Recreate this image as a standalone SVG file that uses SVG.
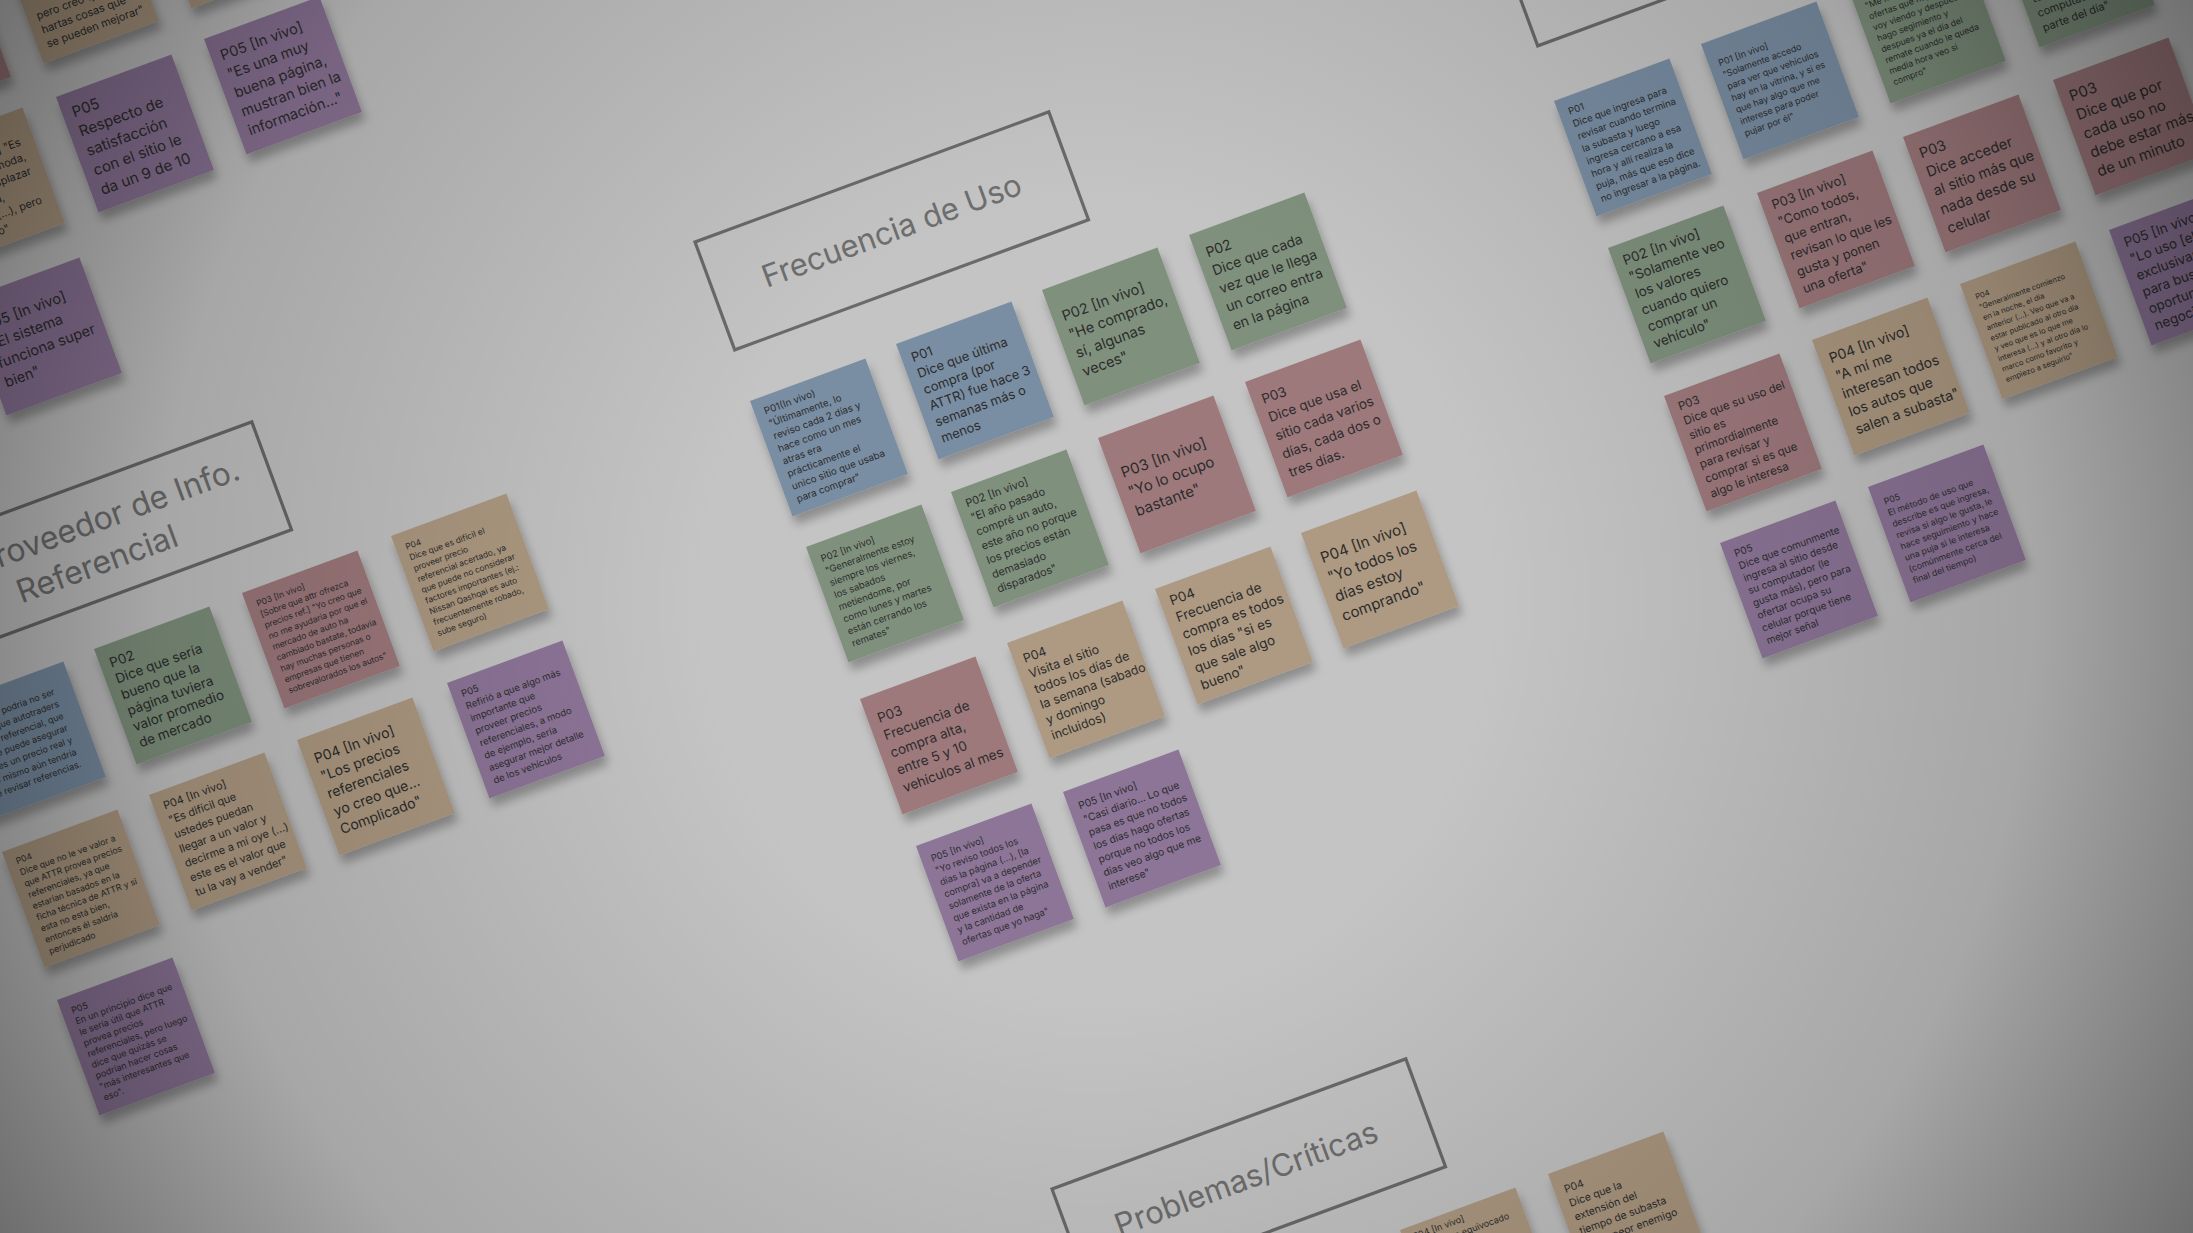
<svg xmlns="http://www.w3.org/2000/svg" width="2193" height="1233" viewBox="0 0 2193 1233">
<defs>
<style>
.n{filter:url(#sh)}
.bl{fill:#7a8ea3}.gr{fill:#7f917d}.rd{fill:#9e797b}.tn{fill:#ae9a82}.pu{fill:#8d7498}
text{font-family:Inter,"Noto Sans","DejaVu Sans",sans-serif}
.t{fill:#2c2c2c}
.e{text-anchor:end}
.box{fill:none;stroke:#6a6a6a;stroke-width:3.2}
.h{fill:#6e6e6e;text-anchor:middle}
.hs{fill:#6e6e6e}
</style>
<filter id="sh" x="-20%" y="-20%" width="150%" height="150%">
<feDropShadow dx="0.5" dy="9" stdDeviation="5" flood-color="#000" flood-opacity="0.28"/>
</filter>
<radialGradient id="vg" cx="1096" cy="600" r="1300" gradientUnits="userSpaceOnUse">
<stop offset="0.3" stop-color="#000" stop-opacity="0"/>
<stop offset="0.72" stop-color="#000" stop-opacity="0.15"/>
<stop offset="1" stop-color="#000" stop-opacity="0.47"/>
</radialGradient>
</defs>
<rect width="2193" height="1233" fill="#c4c4c4"/>

<g id="headers">
<g id="box-proveedor" transform="translate(-102 552) rotate(-20.2)"><rect class="box" width="377" height="115"/><text class="hs" x="69" y="50" font-size="32">Proveedor de Info.</text><text class="hs" x="98" y="91" font-size="32">Referencial</text></g>
<g id="box-frecuencia" transform="translate(695 242) rotate(-20.2)"><rect class="box" width="377" height="115"/><text class="h" x="188.5" y="68" font-size="31">Frecuencia de Uso</text></g>
<g id="box-problemas" transform="translate(1052 1189) rotate(-20.2)"><rect class="box" width="377" height="115"/><text class="h" x="186" y="68" font-size="31">Problemas/Críticas</text></g>
<g id="box-topright" transform="translate(1498 -62) rotate(-20.2)"><rect class="box" width="377" height="115"/></g>
</g>

<g id="connectors"></g>

<g id="notes-left">
<g id="n-l01" transform="translate(1 -52) rotate(-20.2)"><rect class="n tn" width="123" height="123"/><text class="t" font-size="11" y="80"><tspan x="10">pero creo que</tspan><tspan x="10" dy="15">hartas cosas que</tspan><tspan x="10" dy="15">se pueden mejorar"</tspan></text></g>
<g id="n-l02" transform="translate(149 -107) rotate(-20.2)"><rect class="n tn" width="123" height="123"/></g>
<g id="n-l03" transform="translate(-147 4) rotate(-20.2)"><rect class="n rd" width="123" height="123"/></g>
<g id="n-l04" transform="translate(-93 150) rotate(-20.2)"><rect class="n tn" width="123" height="123"/><text class="t e" font-size="11" y="35"><tspan x="109">P04 [In vivo] "Es</tspan><tspan x="109" dy="15.4">muy cómoda,</tspan><tspan x="109" dy="15.4">fácil de desplazar</tspan><tspan x="75" dy="15.4">por ella,</tspan><tspan x="109" dy="15.4">buena (...), pero</tspan><tspan x="69" dy="15.4">es cierto"</tspan></text></g>
<g id="n-l05" transform="translate(56 97) rotate(-20.2)"><rect class="n pu" width="123" height="123"/><text class="t" font-size="15" y="25.4"><tspan x="10">P05</tspan><tspan x="10" dy="20.7">Respecto de</tspan><tspan x="10" dy="20.7">satisfacción</tspan><tspan x="10" dy="20.7">con el sitio le</tspan><tspan x="10" dy="20.7">da un 9 de 10</tspan></text></g>
<g id="n-l06" transform="translate(204 39) rotate(-20.2)"><rect class="n pu" width="123" height="123"/><text class="t" font-size="14.5" y="26.6"><tspan x="10">P05 [In vivo]</tspan><tspan x="10" dy="20">"Es una muy</tspan><tspan x="10" dy="20">buena página,</tspan><tspan x="10" dy="20">mustran bien la</tspan><tspan x="10" dy="20">información..."</tspan></text></g>
<g id="n-l07" transform="translate(-36 300) rotate(-20.2)"><rect class="n pu" width="123" height="123"/><text class="t" font-size="14.5" y="36"><tspan x="10">P05 [In vivo]</tspan><tspan x="10" dy="20.3">"El sistema</tspan><tspan x="10" dy="20.3">funciona super</tspan><tspan x="10" dy="20.3">bien"</tspan></text></g>
<g id="n-l08" transform="translate(-52 704) rotate(-20.2)"><rect class="n bl" width="123" height="123"/><text class="t e" font-size="9" y="28"><tspan x="104">Dice que podría no ser</tspan><tspan x="104" dy="12.8">útil ya que autotraders</tspan><tspan x="104" dy="12.8">da un precio, referencial, que</tspan><tspan x="104" dy="12.8">no se puede asegurar</tspan><tspan x="104" dy="12.8">que es un precio real y</tspan><tspan x="104" dy="12.8">que de todo lo mismo aún tendría</tspan><tspan x="104" dy="12.8">que revisar referencias.</tspan></text></g>
<g id="n-l09" transform="translate(94 649) rotate(-20.2)"><rect class="n gr" width="123" height="123"/><text class="t" font-size="13.5" y="23.7"><tspan x="10">P02</tspan><tspan x="10" dy="17">Dice que sería</tspan><tspan x="10" dy="17">bueno que la</tspan><tspan x="10" dy="17">página tuviera</tspan><tspan x="10" dy="17">valor promedio</tspan><tspan x="10" dy="17">de mercado</tspan></text></g>
<g id="n-l10" transform="translate(242 593) rotate(-20.2)"><rect class="n rd" width="123" height="123"/><text class="t" font-size="8.5" y="18.1"><tspan x="10">P03 [In vivo]</tspan><tspan x="10" dy="11.6">[Sobre que attr ofrezca</tspan><tspan x="10" dy="11.6">precios ref.] "Yo creo que</tspan><tspan x="10" dy="11.6">no me ayudaría por que el</tspan><tspan x="10" dy="11.6">mercado de auto ha</tspan><tspan x="10" dy="11.6">cambiado bastate, todavía</tspan><tspan x="10" dy="11.6">hay muchas personas o</tspan><tspan x="10" dy="11.6">empresas que tienen</tspan><tspan x="10" dy="11.6">sobrevalorados los autos"</tspan></text></g>
<g id="n-l11" transform="translate(391 536) rotate(-20.2)"><rect class="n tn" width="123" height="123"/><text class="t" font-size="8.4" y="18.4"><tspan x="10">P04</tspan><tspan x="10" dy="11.5">Dice que es difícil el</tspan><tspan x="10" dy="11.5">proveer precio</tspan><tspan x="10" dy="11.5">referencial acertado, ya</tspan><tspan x="10" dy="11.5">que puede no considerar</tspan><tspan x="10" dy="11.5">factores importantes (ej.:</tspan><tspan x="10" dy="11.5">Nissan Qashqai es auto</tspan><tspan x="10" dy="11.5">frecuentemente robado,</tspan><tspan x="10" dy="11.5">sube seguro)</tspan></text></g>
<g id="n-l12" transform="translate(447 683) rotate(-20.2)"><rect class="n pu" width="123" height="123"/><text class="t" font-size="9.5" y="18.6"><tspan x="10">P05</tspan><tspan x="10" dy="13.2">Refirió a que algo más</tspan><tspan x="10" dy="13.2">importante que</tspan><tspan x="10" dy="13.2">proveer precios</tspan><tspan x="10" dy="13.2">referenciales, a modo</tspan><tspan x="10" dy="13.2">de ejemplo, sería</tspan><tspan x="10" dy="13.2">asegurar mejor detalle</tspan><tspan x="10" dy="13.2">de los vehículos</tspan></text></g>
<g id="n-l13" transform="translate(297 740) rotate(-20.2)"><rect class="n tn" width="123" height="123"/><text class="t" font-size="14" y="28.8"><tspan x="10">P04 [In vivo]</tspan><tspan x="10" dy="18.8">"Los precios</tspan><tspan x="10" dy="18.8">referenciales</tspan><tspan x="10" dy="18.8">yo creo que...</tspan><tspan x="10" dy="18.8">Complicado"</tspan></text></g>
<g id="n-l14" transform="translate(149 795) rotate(-20.2)"><rect class="n tn" width="123" height="123"/><text class="t" font-size="11" y="19.2"><tspan x="10">P04 [In vivo]</tspan><tspan x="10" dy="15.4">"Es difícil que</tspan><tspan x="10" dy="15.4">ustedes puedan</tspan><tspan x="10" dy="15.4">llegar a un valor y</tspan><tspan x="10" dy="15.4">decirme a mí oye (...)</tspan><tspan x="10" dy="15.4">este es el valor que</tspan><tspan x="10" dy="15.4">tu la vay a vender"</tspan></text></g>
<g id="n-l15" transform="translate(2 852) rotate(-20.2)"><rect class="n tn" width="123" height="123"/><text class="t" font-size="8.7" y="16.7"><tspan x="10">P04</tspan><tspan x="10" dy="12">Dice que no le ve valor a</tspan><tspan x="10" dy="12">que ATTR provea precios</tspan><tspan x="10" dy="12">referenciales, ya que</tspan><tspan x="10" dy="12">estarían basados en la</tspan><tspan x="10" dy="12">ficha técnica de ATTR y si</tspan><tspan x="10" dy="12">esta no está bien,</tspan><tspan x="10" dy="12">entonces él saldría</tspan><tspan x="10" dy="12">perjudicado</tspan></text></g>
<g id="n-l16" transform="translate(57 1000) rotate(-20.2)"><rect class="n pu" width="123" height="123"/><text class="t" font-size="9" y="18.3"><tspan x="10">P05</tspan><tspan x="10" dy="11.6">En un principio dice que</tspan><tspan x="10" dy="11.6">le sería útil que ATTR</tspan><tspan x="10" dy="11.6">provea precios</tspan><tspan x="10" dy="11.6">referenciales, pero luego</tspan><tspan x="10" dy="11.6">dice que quizás se</tspan><tspan x="10" dy="11.6">podrían hacer cosas</tspan><tspan x="10" dy="11.6">"más interesantes que</tspan><tspan x="10" dy="11.6">eso".</tspan></text></g>
</g>

<g id="notes-center">
<g id="n-c01" transform="translate(750 401) rotate(-20.2)"><rect class="n bl" width="123" height="123"/><text class="t" font-size="9.8" y="18"><tspan x="10">P01(In vivo)</tspan><tspan x="10" dy="13.4">"Últimamente, lo</tspan><tspan x="10" dy="13.4">reviso cada 2 días y</tspan><tspan x="10" dy="13.4">hace como un mes</tspan><tspan x="10" dy="13.4">atras era</tspan><tspan x="10" dy="13.4">prácticamente el</tspan><tspan x="10" dy="13.4">unico sitio que usaba</tspan><tspan x="10" dy="13.4">para comprar"</tspan></text></g>
<g id="n-c02" transform="translate(896 344) rotate(-20.2)"><rect class="n bl" width="123" height="123"/><text class="t" font-size="13" y="23"><tspan x="10">P01</tspan><tspan x="10" dy="17.2">Dice que última</tspan><tspan x="10" dy="17.2">compra (por</tspan><tspan x="10" dy="17.2">ATTR) fue hace 3</tspan><tspan x="10" dy="17.2">semanas más o</tspan><tspan x="10" dy="17.2">menos</tspan></text></g>
<g id="n-c03" transform="translate(1042 290) rotate(-20.2)"><rect class="n gr" width="123" height="123"/><text class="t" font-size="14.5" y="37"><tspan x="10">P02 [In vivo]</tspan><tspan x="10" dy="19.7">"He comprado,</tspan><tspan x="10" dy="19.7">sí, algunas</tspan><tspan x="10" dy="19.7">veces"</tspan></text></g>
<g id="n-c04" transform="translate(1189 235) rotate(-20.2)"><rect class="n gr" width="123" height="123"/><text class="t" font-size="14" y="27.6"><tspan x="10">P02</tspan><tspan x="10" dy="19.4">Dice que cada</tspan><tspan x="10" dy="19.4">vez que le llega</tspan><tspan x="10" dy="19.4">un correo entra</tspan><tspan x="10" dy="19.4">en la página</tspan></text></g>
<g id="n-c05" transform="translate(806 547) rotate(-20.2)"><rect class="n gr" width="123" height="123"/><text class="t" font-size="9.5" y="19.7"><tspan x="10">P02 [In vivo]</tspan><tspan x="10" dy="12.9">"Generalmente estoy</tspan><tspan x="10" dy="12.9">siempre los viernes,</tspan><tspan x="10" dy="12.9">los sabados</tspan><tspan x="10" dy="12.9">metiendome, por</tspan><tspan x="10" dy="12.9">como lunes y martes</tspan><tspan x="10" dy="12.9">están cerrando los</tspan><tspan x="10" dy="12.9">remates"</tspan></text></g>
<g id="n-c06" transform="translate(951 492) rotate(-20.2)"><rect class="n gr" width="123" height="123"/><text class="t" font-size="11" y="19.8"><tspan x="10">P02 [In vivo]</tspan><tspan x="10" dy="15.2">"El año pasado</tspan><tspan x="10" dy="15.2">compré un auto,</tspan><tspan x="10" dy="15.2">este año no porque</tspan><tspan x="10" dy="15.2">los precios están</tspan><tspan x="10" dy="15.2">demasiado</tspan><tspan x="10" dy="15.2">disparados"</tspan></text></g>
<g id="n-c07" transform="translate(1098 438) rotate(-20.2)"><rect class="n rd" width="123" height="123"/><text class="t" font-size="15" y="46.3"><tspan x="10">P03 [In vivo]</tspan><tspan x="10" dy="20.5">"Yo lo ocupo</tspan><tspan x="10" dy="20.5">bastante"</tspan></text></g>
<g id="n-c08" transform="translate(1245 382) rotate(-20.2)"><rect class="n rd" width="123" height="123"/><text class="t" font-size="13.5" y="27.2"><tspan x="10">P03</tspan><tspan x="10" dy="19.5">Dice que usa el</tspan><tspan x="10" dy="19.5">sitio cada varios</tspan><tspan x="10" dy="19.5">días, cada dos o</tspan><tspan x="10" dy="19.5">tres días.</tspan></text></g>
<g id="n-c09" transform="translate(860 699) rotate(-20.2)"><rect class="n rd" width="123" height="123"/><text class="t" font-size="13.5" y="29.2"><tspan x="10">P03</tspan><tspan x="10" dy="18.5">Frecuencia de</tspan><tspan x="10" dy="18.5">compra alta,</tspan><tspan x="10" dy="18.5">entre 5 y 10</tspan><tspan x="10" dy="18.5">vehículos al mes</tspan></text></g>
<g id="n-c10" transform="translate(1007 643) rotate(-20.2)"><rect class="n tn" width="123" height="123"/><text class="t" font-size="12.5" y="24.9"><tspan x="10">P04</tspan><tspan x="10" dy="16.4">Visita el sitio</tspan><tspan x="10" dy="16.4">todos los días de</tspan><tspan x="10" dy="16.4">la semana (sabado</tspan><tspan x="10" dy="16.4">y domingo</tspan><tspan x="10" dy="16.4">incluidos)</tspan></text></g>
<g id="n-c11" transform="translate(1155 589) rotate(-20.2)"><rect class="n tn" width="123" height="123"/><text class="t" font-size="13.5" y="21.2"><tspan x="10">P04</tspan><tspan x="10" dy="18">Frecuencia de</tspan><tspan x="10" dy="18">compra es todos</tspan><tspan x="10" dy="18">los días "si es</tspan><tspan x="10" dy="18">que sale algo</tspan><tspan x="10" dy="18">bueno"</tspan></text></g>
<g id="n-c12" transform="translate(1301 533) rotate(-20.2)"><rect class="n tn" width="123" height="123"/><text class="t" font-size="15" y="35.9"><tspan x="10">P04 [In vivo]</tspan><tspan x="10" dy="20.6">"Yo todos los</tspan><tspan x="10" dy="20.6">días estoy</tspan><tspan x="10" dy="20.6">comprando"</tspan></text></g>
<g id="n-c13" transform="translate(916 846) rotate(-20.2)"><rect class="n pu" width="123" height="123"/><text class="t" font-size="9.3" y="20.5"><tspan x="10">P05 [In vivo]</tspan><tspan x="10" dy="12.7">"Yo reviso todos los</tspan><tspan x="10" dy="12.7">días la página (...), [la</tspan><tspan x="10" dy="12.7">compra] va a depender</tspan><tspan x="10" dy="12.7">solamente de la oferta</tspan><tspan x="10" dy="12.7">que exista en la página</tspan><tspan x="10" dy="12.7">y la cantidad de</tspan><tspan x="10" dy="12.7">ofertas que yo haga"</tspan></text></g>
<g id="n-c14" transform="translate(1063 792) rotate(-20.2)"><rect class="n pu" width="123" height="123"/><text class="t" font-size="10.3" y="22.3"><tspan x="10">P05 [In vivo]</tspan><tspan x="10" dy="14.3">"Casi diario... Lo que</tspan><tspan x="10" dy="14.3">pasa es que no todos</tspan><tspan x="10" dy="14.3">los días hago ofertas</tspan><tspan x="10" dy="14.3">porque no todos los</tspan><tspan x="10" dy="14.3">días veo algo que me</tspan><tspan x="10" dy="14.3">interese"</tspan></text></g>
</g>

<g id="notes-right">
<g id="n-r01" transform="translate(1554 101) rotate(-20.2)"><rect class="n bl" width="123" height="123"/><text class="t" font-size="9.6" y="18.4"><tspan x="10">P01</tspan><tspan x="10" dy="13.3">Dice que ingresa para</tspan><tspan x="10" dy="13.3">revisar cuando termina</tspan><tspan x="10" dy="13.3">la subasta y luego</tspan><tspan x="10" dy="13.3">ingresa cercano a esa</tspan><tspan x="10" dy="13.3">hora y allí realiza la</tspan><tspan x="10" dy="13.3">puja, más que eso dice</tspan><tspan x="10" dy="13.3">no ingresar a la página.</tspan></text></g>
<g id="n-r02" transform="translate(1701 44) rotate(-20.2)"><rect class="n bl" width="123" height="123"/><text class="t" font-size="9" y="27.3"><tspan x="10">P01 [In vivo]</tspan><tspan x="10" dy="12.5">"Solamente accedo</tspan><tspan x="10" dy="12.5">para ver que vehículos</tspan><tspan x="10" dy="12.5">hay en la vitrina, y si es</tspan><tspan x="10" dy="12.5">que hay algo que me</tspan><tspan x="10" dy="12.5">interese para poder</tspan><tspan x="10" dy="12.5">pujar por él"</tspan></text></g>
<g id="n-r03" transform="translate(1848 -12) rotate(-20.2)"><rect class="n gr" width="123" height="123"/><text class="t" font-size="8.7" y="14.4"><tspan x="10">P02 [In vivo]</tspan><tspan x="10" dy="11.6">"Me meto a ver las</tspan><tspan x="10" dy="11.6">ofertas que hay</tspan><tspan x="10" dy="11.6">voy viendo y despues lo</tspan><tspan x="10" dy="11.6">hago segimiento y</tspan><tspan x="10" dy="11.6">despues ya el día del</tspan><tspan x="10" dy="11.6">remate cuando le queda</tspan><tspan x="10" dy="11.6">media hora veo si</tspan><tspan x="10" dy="11.6">compro"</tspan></text></g>
<g id="n-r04" transform="translate(1997 -68) rotate(-20.2)"><rect class="n gr" width="123" height="123"/><text class="t" font-size="11" y="79"><tspan x="10">todo</tspan><tspan x="10" dy="15.5">computador</tspan><tspan x="10" dy="15.5">parte del día"</tspan></text></g>
<g id="n-r05" transform="translate(1608 248) rotate(-20.2)"><rect class="n gr" width="123" height="123"/><text class="t" font-size="13.5" y="22"><tspan x="10">P02 [In vivo]</tspan><tspan x="10" dy="17.7">"Solamente veo</tspan><tspan x="10" dy="17.7">los valores</tspan><tspan x="10" dy="17.7">cuando quiero</tspan><tspan x="10" dy="17.7">comprar un</tspan><tspan x="10" dy="17.7">vehículo"</tspan></text></g>
<g id="n-r06" transform="translate(1757 193) rotate(-20.2)"><rect class="n rd" width="123" height="123"/><text class="t" font-size="13" y="21.3"><tspan x="10">P03 [In vivo]</tspan><tspan x="10" dy="17.9">"Como todos,</tspan><tspan x="10" dy="17.9">que entran,</tspan><tspan x="10" dy="17.9">revisan lo que les</tspan><tspan x="10" dy="17.9">gusta y ponen</tspan><tspan x="10" dy="17.9">una oferta"</tspan></text></g>
<g id="n-r07" transform="translate(1903 137) rotate(-20.2)"><rect class="n rd" width="123" height="123"/><text class="t" font-size="14.5" y="26.6"><tspan x="10">P03</tspan><tspan x="10" dy="20">Dice acceder</tspan><tspan x="10" dy="20">al sitio más que</tspan><tspan x="10" dy="20">nada desde su</tspan><tspan x="10" dy="20">celular</tspan></text></g>
<g id="n-r08" transform="translate(2053 80) rotate(-20.2)"><rect class="n rd" width="123" height="123"/><text class="t" font-size="15" y="26.5"><tspan x="10">P03</tspan><tspan x="10" dy="20.1">Dice que por</tspan><tspan x="10" dy="20.1">cada uso no</tspan><tspan x="10" dy="20.1">debe estar más</tspan><tspan x="10" dy="20.1">de un minuto</tspan></text></g>
<g id="n-r09" transform="translate(1664 396) rotate(-20.2)"><rect class="n rd" width="123" height="123"/><text class="t" font-size="11.5" y="19"><tspan x="10">P03</tspan><tspan x="10" dy="15.5">Dice que su uso del</tspan><tspan x="10" dy="15.5">sitio es</tspan><tspan x="10" dy="15.5">primordialmente</tspan><tspan x="10" dy="15.5">para revisar y</tspan><tspan x="10" dy="15.5">comprar si es que</tspan><tspan x="10" dy="15.5">algo le interesa</tspan></text></g>
<g id="n-r10" transform="translate(1812 340) rotate(-20.2)"><rect class="n tn" width="123" height="123"/><text class="t" font-size="14" y="28.4"><tspan x="10">P04 [In vivo]</tspan><tspan x="10" dy="19">"A mí me</tspan><tspan x="10" dy="19">interesan todos</tspan><tspan x="10" dy="19">los autos que</tspan><tspan x="10" dy="19">salen a subasta"</tspan></text></g>
<g id="n-r11" transform="translate(1960 284) rotate(-20.2)"><rect class="n tn" width="123" height="123"/><text class="t" font-size="7.6" y="20.3"><tspan x="10">P04</tspan><tspan x="10" dy="11">"Generalmente comienzo</tspan><tspan x="10" dy="11">en la noche, el día</tspan><tspan x="10" dy="11">anterior (...). Veo que va a</tspan><tspan x="10" dy="11">estar publicado al otro día</tspan><tspan x="10" dy="11">y veo que es lo que me</tspan><tspan x="10" dy="11">interesa (...) y al otro día lo</tspan><tspan x="10" dy="11">marco como favorito y</tspan><tspan x="10" dy="11">empiezo a seguirlo"</tspan></text></g>
<g id="n-r12" transform="translate(2109 230) rotate(-20.2)"><rect class="n pu" width="123" height="123"/><text class="t" font-size="13.5" y="22"><tspan x="10">P05 [In vivo]</tspan><tspan x="10" dy="17.7">"Lo uso [el sitio]</tspan><tspan x="10" dy="17.7">exclusivamente</tspan><tspan x="10" dy="17.7">para buscar</tspan><tspan x="10" dy="17.7">oportunidades de</tspan><tspan x="10" dy="17.7">negocio"</tspan></text></g>
<g id="n-r13" transform="translate(1720 543) rotate(-20.2)"><rect class="n pu" width="123" height="123"/><text class="t" font-size="10" y="18.5"><tspan x="10">P05</tspan><tspan x="10" dy="13.3">Dice que comunmente</tspan><tspan x="10" dy="13.3">ingresa al sitio desde</tspan><tspan x="10" dy="13.3">su computador (le</tspan><tspan x="10" dy="13.3">gusta más), pero para</tspan><tspan x="10" dy="13.3">ofertar ocupa su</tspan><tspan x="10" dy="13.3">celular porque tiene</tspan><tspan x="10" dy="13.3">mejor señal</tspan></text></g>
<g id="n-r14" transform="translate(1868 487) rotate(-20.2)"><rect class="n pu" width="123" height="123"/><text class="t" font-size="8.8" y="22.6"><tspan x="10">P05</tspan><tspan x="10" dy="12">El método de uso que</tspan><tspan x="10" dy="12">describe es que ingresa,</tspan><tspan x="10" dy="12">revisa si algo le gusta, le</tspan><tspan x="10" dy="12">hace seguimiento y hace</tspan><tspan x="10" dy="12">una puja si le interesa</tspan><tspan x="10" dy="12">(comúnmente cerca del</tspan><tspan x="10" dy="12">final del tiempo)</tspan></text></g>
</g>

<g id="notes-bottom">
<g id="n-b01" transform="translate(1400 1230) rotate(-20.2)"><rect class="n tn" width="123" height="123"/><text class="t" font-size="9" x="10" y="14">P04 [In vivo]</text><text class="t e" font-size="9" x="107" y="27">"Me he equivocado</text></g>
<g id="n-b02" transform="translate(1548 1174) rotate(-20.2)"><rect class="n tn" width="123" height="123"/><text class="t" font-size="10.5" y="24"><tspan x="10">P04</tspan><tspan x="10" dy="14.8">Dice que la</tspan><tspan x="10" dy="14.8">extensión del</tspan><tspan x="10" dy="14.8">tiempo de subasta</tspan><tspan x="10" dy="14.8">es su peor enemigo</tspan></text></g>
</g>

<rect id="vignette" width="2193" height="1233" fill="url(#vg)"/>
</svg>
